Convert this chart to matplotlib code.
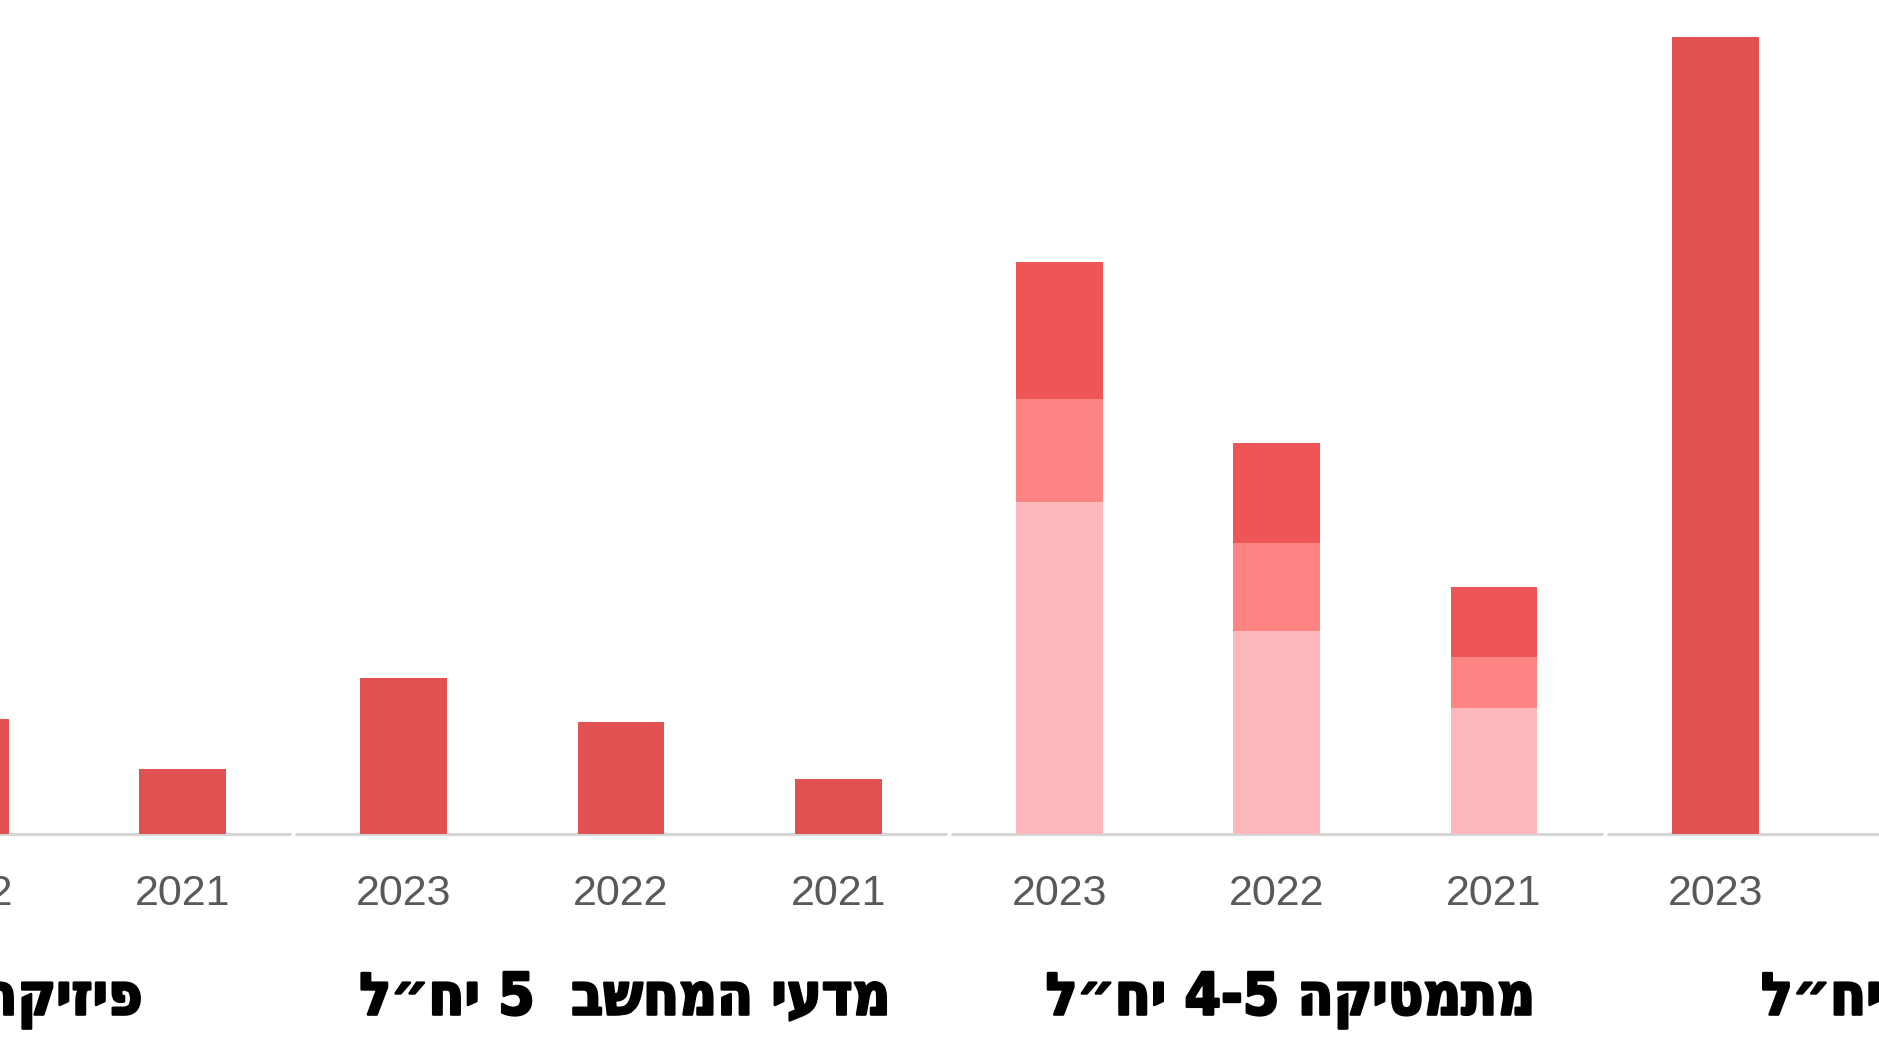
import re
import numpy as np
import matplotlib
matplotlib.use("Agg")
import matplotlib.pyplot as plt
import matplotlib.patheffects as pe

# Group titles (logical Hebrew order), left to right as drawn
groups = ['פיזיקה 5 יח״ל', 'מדעי המחשב  5 יח״ל', 'מתמטיקה 4-5 יח״ל', 'אנגלית 5 יח״ל']
years = ['2023', '2022', '2021']

# Single-colour groups (nan = bar outside the visible crop)
physics_vals = [np.nan, 115, 65]
cs_vals = [156, 112, 55]
english_vals = [797, np.nan, np.nan]

# Maths is stacked in three layers
math_base = [332, 203, 126]
math_mid = [103, 88, 51]
math_top = [137, 100, 70]

solid_color = '#E05151'
layer_colors = ['#FDB8BB', '#FE8383', '#ED5557']


def visual(s):
    # matplotlib has no bidi support: flip the string, keep number runs LTR
    return re.sub(r'[0-9][0-9\-]*[0-9]|[0-9]', lambda m: m.group()[::-1], s[::-1])


gap = 0.019
width = 0.40
pos = [[g * (3 + gap) + i for i in range(3)] for g in range(len(groups))]
title_shift = [0, 3, 10, 7]  # small horizontal nudges of the titles (points)

fig = plt.figure(figsize=(18.79, 10.56), dpi=100)
ax = fig.add_axes([0, 222 / 1056, 1, 834 / 1056])

for g, vals in [(0, physics_vals), (1, cs_vals), (3, english_vals)]:
    ax.bar(pos[g], vals, width=width, color=solid_color, zorder=3)

bottom = np.zeros(3)
for layer, color in zip([math_base, math_mid, math_top], layer_colors):
    ax.bar(pos[2], layer, width=width, bottom=bottom, color=color, zorder=3)
    bottom += np.array(layer)

for g in range(len(groups)):
    ax.plot([pos[g][0] - 0.5, pos[g][-1] + 0.5], [0, 0], color='#D6D6D6', lw=2.2,
            solid_capstyle='butt', zorder=2, clip_on=False)
    for i, yr in enumerate(years):
        ax.annotate(yr, (pos[g][i], 0), xytext=(0, -43), textcoords='offset points',
                    ha='center', va='center', fontsize=31, color='#595959',
                    family='Liberation Sans', annotation_clip=False)
    ax.annotate(visual(groups[g]), (pos[g][1], 0), xytext=(title_shift[g], -130),
                textcoords='offset points', ha='center', va='baseline', fontsize=42,
                color='black', family='DejaVu Sans', fontweight='heavy',
                fontstretch='condensed', annotation_clip=False,
                path_effects=[pe.withStroke(linewidth=1.8, foreground='black')])

ax.set_xlim(2 - 182.5 / 217.2, 2 + (1879 - 182.5) / 217.2)
ax.set_ylim(0, 834)
ax.axis('off')

fig.savefig('out.png', dpi=100, facecolor='white')
